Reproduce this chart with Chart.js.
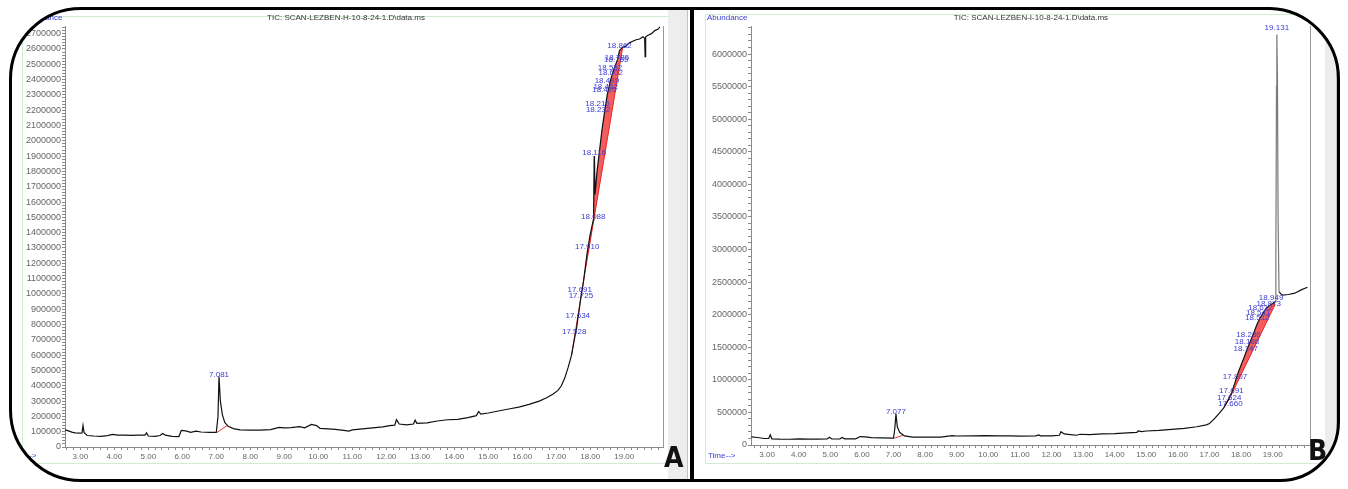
<!DOCTYPE html>
<html>
<head>
<meta charset="utf-8">
<script src="https://cdn.jsdelivr.net/npm/chart.js@4.4.1/dist/chart.umd.min.js"></script>
<style>
body { margin: 0; width: 1348px; height: 489px; background: #fff; position: relative; overflow: hidden; font-family: "Liberation Sans", Arial, sans-serif; }
canvas { position: absolute; }
.green { position: absolute; border: 1px solid #d3ead3; }
.band { position: absolute; background: #ededed; border-right: 1px solid #c2c2c2; }
.txt { position: absolute; font-size: 8px; line-height: 10px; white-space: nowrap; color: #333; }
.blue { color: #3c3cd2; }
.big { position: absolute; font: bold 28px/28px "Liberation Sans Narrow", "DejaVu Sans Condensed", sans-serif; color: #111; }
#frame { position: absolute; left: 9px; top: 7px; width: 1331px; height: 475px; box-sizing: border-box; border: 3px solid #000; border-radius: 72px 72px 60px 72px; box-shadow: 0 0 0 300px #fff; pointer-events: none; }
#divider { position: absolute; left: 690px; top: 8px; width: 4px; height: 473px; background: #000; }
</style>
</head>
<body>
<div class="green" style="left:22px;top:16px;width:645px;height:446px"></div>
<div class="band" style="left:668px;top:8px;width:19px;height:473px"></div>
<div class="green" style="left:705px;top:14px;width:619px;height:448px"></div>
<div class="band" style="left:1325px;top:8px;width:11px;height:473px"></div>

<canvas id="chartA" width="676" height="472" style="left:12px;top:8px"></canvas>
<canvas id="chartB" width="640" height="472" style="left:697px;top:8px"></canvas>

<div class="txt blue" style="left:22px;top:13px">Abundance</div>
<div class="txt" style="left:246px;top:13px;width:200px;text-align:center">TIC: SCAN-LEZBEN-H-10-8-24-1.D\data.ms</div>
<div class="txt blue" style="left:9px;top:451px">Time--&gt;</div>
<div class="big" style="left:664px;top:444px">A</div>

<div class="txt blue" style="left:707px;top:13px">Abundance</div>
<div class="txt" style="left:931px;top:13px;width:200px;text-align:center">TIC: SCAN-LEZBEN-I-10-8-24-1.D\data.ms</div>
<div class="txt blue" style="left:708px;top:451px">Time--&gt;</div>
<div class="big" style="left:1308px;top:437px">B</div>

<div id="divider"></div>
<div id="frame"></div>

<script>
// sample A (H-10-8-24-1)
const timeA = [2.55, 2.65, 2.75, 2.85, 3.0, 3.05, 3.08, 3.11, 3.2, 3.4, 3.6, 3.8, 3.95, 4.1, 4.3, 4.5, 4.7, 4.9, 4.95, 5.0, 5.2, 5.35, 5.42, 5.5, 5.7, 5.9, 5.97, 6.1, 6.25, 6.4, 6.55, 6.8, 7.0, 7.05, 7.08, 7.12, 7.18, 7.25, 7.35, 7.5, 7.7, 8.0, 8.3, 8.6, 8.85, 9.0, 9.2, 9.45, 9.6, 9.8, 9.95, 10.05, 10.3, 10.5, 10.75, 10.9, 11.0, 11.3, 11.6, 11.9, 12.1, 12.25, 12.3, 12.38, 12.6, 12.8, 12.85, 12.9, 13.2, 13.5, 13.8, 14.1, 14.4, 14.65, 14.72, 14.78, 15.0, 15.3, 15.6, 15.9, 16.2, 16.5, 16.7, 16.9, 17.05, 17.15, 17.25, 17.35, 17.45, 17.53, 17.6, 17.63, 17.69, 17.725, 17.8, 17.91, 18.0, 18.088, 18.1, 18.116, 18.125, 18.14, 18.2, 18.28, 18.35, 18.43, 18.5, 18.6, 18.7, 18.8, 18.86, 18.95, 19.05, 19.15, 19.25, 19.35, 19.45, 19.55, 19.6, 19.615, 19.63, 19.7, 19.8, 19.9, 20.0, 20.05];
const abundA = [112000, 105000, 97000, 92000, 90000, 92000, 140000, 95000, 75000, 72000, 70000, 74000, 82000, 78000, 77000, 76000, 78000, 77000, 92000, 72000, 70000, 75000, 88000, 78000, 70000, 68000, 108000, 105000, 96000, 104000, 98000, 95000, 95000, 200000, 460000, 300000, 210000, 160000, 135000, 120000, 112000, 110000, 110000, 113000, 128000, 125000, 127000, 133000, 125000, 148000, 140000, 122000, 118000, 115000, 108000, 104000, 112000, 118000, 125000, 132000, 140000, 143000, 178000, 150000, 145000, 150000, 175000, 155000, 158000, 170000, 178000, 180000, 192000, 205000, 232000, 215000, 222000, 235000, 248000, 260000, 278000, 300000, 320000, 345000, 370000, 400000, 450000, 520000, 600000, 700000, 780000, 830000, 920000, 980000, 1080000, 1270000, 1390000, 1480000, 1550000, 1900000, 1880000, 1650000, 1800000, 1950000, 2080000, 2200000, 2300000, 2400000, 2470000, 2530000, 2590000, 2610000, 2620000, 2640000, 2650000, 2660000, 2665000, 2680000, 2670000, 2550000, 2680000, 2690000, 2700000, 2720000, 2730000, 2745000];
const baseTimeA = [17.8, 18.95];
const baseAbundA = [1080000, 2605000];
const lowBaseTimeA = [17.45, 17.8];
const lowBaseAbundA = [600000, 1080000];
const smallBaseTimeA = [7.02, 7.32];
const smallBaseAbundA = [95000, 140000];
const peakTimeA = [7.081, 17.528, 17.634, 17.725, 17.691, 17.910, 18.088, 18.116, 18.232, 18.215, 18.420, 18.452, 18.489, 18.602, 18.582, 18.765, 18.785, 18.862];
const peakTextA = ['7.081', '17.528', '17.634', '17.725', '17.691', '17.910', '18.088', '18.116', '18.232', '18.215', '18.420', '18.452', '18.489', '18.602', '18.582', '18.765', '18.785', '18.862'];
const peakLevelA = [470000, 750000, 855000, 990000, 1030000, 1310000, 1505000, 1920000, 2200000, 2240000, 2335000, 2355000, 2390000, 2445000, 2480000, 2530000, 2540000, 2620000];

// sample B (I-10-8-24-1)
const timeB = [2.5, 2.7, 2.9, 3.05, 3.1, 3.15, 3.4, 3.7, 4.0, 4.3, 4.6, 4.9, 4.97, 5.05, 5.3, 5.38, 5.45, 5.8, 5.95, 6.1, 6.3, 6.6, 7.0, 7.04, 7.077, 7.12, 7.2, 7.35, 7.6, 8.0, 8.5, 8.85, 9.0, 9.5, 9.9, 10.3, 10.7, 11.0, 11.5, 11.6, 11.65, 12.0, 12.25, 12.3, 12.4, 12.6, 12.8, 12.9, 13.2, 13.6, 14.0, 14.4, 14.7, 14.75, 14.85, 15.0, 15.4, 15.8, 16.2, 16.6, 16.9, 17.0, 17.15, 17.3, 17.45, 17.6, 17.7, 17.8, 17.9, 18.0, 18.1, 18.2, 18.3, 18.4, 18.5, 18.6, 18.7, 18.8, 18.9, 19.0, 19.08, 19.1, 19.12, 19.131, 19.15, 19.17, 19.2, 19.3, 19.5, 19.7, 19.9, 20.1];
const abundB = [125000, 115000, 100000, 100000, 155000, 95000, 90000, 88000, 95000, 90000, 90000, 92000, 120000, 92000, 95000, 115000, 95000, 95000, 130000, 125000, 112000, 108000, 105000, 250000, 480000, 280000, 190000, 140000, 122000, 120000, 122000, 145000, 138000, 140000, 145000, 140000, 140000, 135000, 140000, 155000, 140000, 140000, 150000, 205000, 170000, 160000, 150000, 165000, 160000, 170000, 175000, 185000, 195000, 215000, 205000, 215000, 225000, 240000, 255000, 280000, 310000, 330000, 400000, 480000, 570000, 700000, 800000, 950000, 1100000, 1230000, 1350000, 1480000, 1600000, 1720000, 1850000, 1950000, 2030000, 2100000, 2140000, 2170000, 2200000, 3000000, 5500000, 6300000, 5600000, 3500000, 2350000, 2300000, 2310000, 2330000, 2380000, 2420000];
const baseTimeB = [17.62, 19.08];
const baseAbundB = [700000, 2160000];
const lowBaseTimeB = [17.45, 17.62];
const lowBaseAbundB = [570000, 700000];
const smallBaseTimeB = [7.03, 7.3];
const smallBaseAbundB = [105000, 150000];
const peakTimeB = [7.077, 17.660, 17.624, 17.691, 17.807, 18.147, 18.188, 18.236, 18.512, 18.541, 18.612, 18.873, 18.949, 19.131];
const peakTextB = ['7.077', '17.660', '17.624', '17.691', '17.807', '18.147', '18.188', '18.236', '18.512', '18.541', '18.612', '18.873', '18.949', '19.131'];
const peakLevelB = [506000, 629000, 721000, 828000, 1043000, 1472000, 1580000, 1687000, 1948000, 2025000, 2101000, 2163000, 2255000, 6395000];

const majorTimes = [3, 4, 5, 6, 7, 8, 9, 10, 11, 12, 13, 14, 15, 16, 17, 18, 19];

function toPoints(xs, ys) {
    return xs.map((t, i) => ({ x: t, y: ys[i] }));
}

const peakLabels = {
    id: 'peakLabels',
    afterDatasetsDraw(chart, args, opts) {
        const { ctx, chartArea, scales } = chart;
        ctx.save();
        // right frame of the plot
        ctx.strokeStyle = '#9a9a9a';
        ctx.lineWidth = 1;
        ctx.beginPath();
        ctx.moveTo(Math.round(chartArea.right) + 0.5, chartArea.top);
        ctx.lineTo(Math.round(chartArea.right) + 0.5, chartArea.bottom);
        ctx.stroke();
        ctx.font = '8px "Liberation Sans", Arial';
        ctx.fillStyle = '#3c3cd2';
        ctx.textAlign = 'center';
        ctx.textBaseline = 'middle';
        opts.times.forEach((t, i) => {
            ctx.fillText(opts.texts[i], scales.x.getPixelForValue(t), scales.y.getPixelForValue(opts.levels[i]));
        });
        ctx.restore();
    }
};

function redLine(xs, ys) {
    return {
        data: toPoints(xs, ys),
        borderColor: '#e33',
        borderWidth: 1,
        pointRadius: 0,
        fill: false
    };
}

function makeChart(id, cfg) {
    const ctx = document.getElementById(id).getContext('2d');
    new Chart(ctx, {
        type: 'line',
        data: {
            datasets: [{
                data: toPoints(cfg.time, cfg.abund),
                borderColor: '#111',
                borderWidth: 1.2,
                pointRadius: 0,
                fill: false,
                segment: {
                    borderColor: c => (c.p0.parsed.y > 2500000 || c.p1.parsed.y > 2500000) && cfg.grayPeak ? '#7a7a7a' : '#111'
                }
            }, {
                data: toPoints(cfg.baseTime, cfg.baseAbund),
                borderColor: '#e22',
                borderWidth: 1,
                pointRadius: 0,
                fill: { target: 0, above: 'rgba(238,40,40,0.75)', below: 'rgba(238,40,40,0.75)' }
            },
            redLine(cfg.lowTime, cfg.lowAbund),
            redLine(cfg.smallTime, cfg.smallAbund)]
        },
        options: {
            responsive: false,
            animation: false,
            layout: { padding: cfg.padding },
            plugins: {
                legend: { display: false },
                tooltip: { enabled: false },
                peakLabels: { times: cfg.peakTime, texts: cfg.peakText, levels: cfg.peakLevel }
            },
            scales: {
                x: {
                    type: 'linear',
                    min: cfg.xMin,
                    max: cfg.xMax,
                    afterBuildTicks: s => {
                        const ticks = [];
                        for (let v = 26; v <= 200; v += 2) ticks.push({ value: v / 10 });
                        s.ticks = ticks;
                    },
                    afterFit: s => { s.height = cfg.xHeight; },
                    border: { color: '#8a8a8a', width: 1 },
                    grid: { drawOnChartArea: false, tickLength: 3, color: '#8a8a8a' },
                    ticks: {
                        autoSkip: false,
                        maxRotation: 0,
                        padding: 2,
                        color: '#666',
                        font: { size: 8, family: '"Liberation Sans", Arial' },
                        callback: v => majorTimes.some(m => Math.abs(m - v) < 1e-6) ? v.toFixed(2) : ''
                    }
                },
                y: {
                    type: 'linear',
                    min: 0,
                    max: cfg.yMax,
                    afterBuildTicks: s => {
                        const ticks = [];
                        for (let v = 0; v <= cfg.yMax; v += cfg.yMinor) ticks.push({ value: v });
                        s.ticks = ticks;
                    },
                    afterFit: s => { s.width = cfg.yWidth; },
                    border: { color: '#8a8a8a', width: 1 },
                    grid: { drawOnChartArea: false, tickLength: 3, color: '#8a8a8a' },
                    ticks: {
                        autoSkip: false,
                        padding: 1,
                        color: '#666',
                        font: { size: 9, family: '"Liberation Sans", Arial' },
                        callback: v => v % cfg.yMajor === 0 ? String(v) : ''
                    }
                }
            }
        },
        plugins: [peakLabels]
    });
}

makeChart('chartA', {
    time: timeA, abund: abundA,
    baseTime: baseTimeA, baseAbund: baseAbundA,
    lowTime: lowBaseTimeA, lowAbund: lowBaseAbundA,
    smallTime: smallBaseTimeA, smallAbund: smallBaseAbundA,
    peakTime: peakTimeA, peakText: peakTextA, peakLevel: peakLevelA,
    xMin: 2.55, xMax: 20.14,
    yMax: 2750000, yMajor: 100000, yMinor: 20000,
    padding: { left: 0, right: 25, top: 18, bottom: 0 },
    xHeight: 33, yWidth: 53, grayPeak: false
});

makeChart('chartB', {
    time: timeB, abund: abundB,
    baseTime: baseTimeB, baseAbund: baseAbundB,
    lowTime: lowBaseTimeB, lowAbund: lowBaseAbundB,
    smallTime: smallBaseTimeB, smallAbund: smallBaseAbundB,
    peakTime: peakTimeB, peakText: peakTextB, peakLevel: peakLevelB,
    xMin: 2.49, xMax: 20.18,
    yMax: 6430000, yMajor: 500000, yMinor: 100000,
    padding: { left: 0, right: 27, top: 18, bottom: 0 },
    xHeight: 35, yWidth: 54, grayPeak: true
});
</script>
</body>
</html>
